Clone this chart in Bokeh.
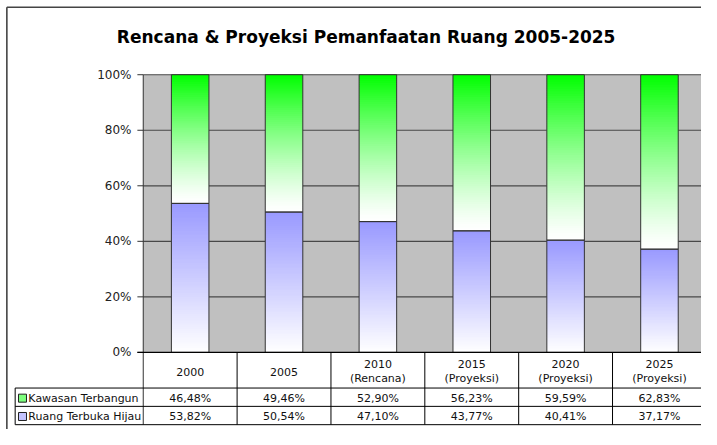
from bokeh.plotting import figure
from bokeh.models import Range1d, BoxAnnotation
from bokeh.core.properties import value
from bokeh.embed import file_html
from bokeh.resources import INLINE

# ---------------- data ----------------
title_text = "Rencana & Proyeksi Pemanfaatan Ruang 2005-2025"
cat_line1 = ["2000", "2005", "2010", "2015", "2020", "2025"]
cat_line2 = ["", "", "(Rencana)", "(Proyeksi)", "(Proyeksi)", "(Proyeksi)"]
kawasan = [46.48, 49.46, 52.90, 56.23, 59.59, 62.83]
ruang = [53.82, 50.54, 47.10, 43.77, 40.41, 37.17]
series_names = ["Kawasan Terbangun", "Ruang Terbuka Hijau"]
y_ticks = [0, 20, 40, 60, 80, 100]
y_tick_labels = ["0%", "20%", "40%", "60%", "80%", "100%"]

# ---------------- geometry (reference picture is 717 x 445) ----------------
W, H = 701, 429
REF_W, REF_H = 717, 445
PX0, CAT_W = 146, 96
PY0, PY100 = 365, 77


def X(px):
    return (px - PX0) / CAT_W


def Y(py):
    return (PY0 - py) / (PY0 - PY100) * 100


n = len(cat_line1)
FONT = value("DejaVu Sans")

p = figure(width=W, height=H, output_backend="svg", toolbar_location=None,
           x_range=Range1d(X(0), X(REF_W)), y_range=Range1d(Y(REF_H), Y(0)),
           x_axis_location=None, y_axis_location=None, min_border=0)
p.grid.visible = False
p.outline_line_color = None
p.background_fill_color = "white"
p.border_fill_color = "white"

# plot area background
p.add_layout(BoxAnnotation(left=0, right=n, bottom=0, top=100, fill_color="#C0C0C0",
                           fill_alpha=1, line_color=None, level="underlay"))

# gridlines and ticks
for t in y_ticks[1:]:
    p.segment(x0=[0], x1=[n], y0=[t], y1=[t], line_color="#484848", line_width=1.2)
for t in y_ticks:
    p.segment(x0=[X(140)], x1=[0], y0=[t], y1=[t], line_color="#333333", line_width=1)

# tick labels
p.text(x=[X(134)] * len(y_ticks), y=y_ticks, text=y_tick_labels, text_align="right",
       text_baseline="middle", text_font=FONT, text_font_size="12px", text_color="#222222")

# bars with gradient
N = 70
bar_w = 0.4
blue_top = (153, 153, 255)
green_top = (0, 255, 0)


def lerp(c, f):
    return "#%02x%02x%02x" % tuple(int(round(255 + (ci - 255) * f)) for ci in c)


xs, bots, tops, cols = [], [], [], []
r_pct = []
for i in range(n):
    tot = kawasan[i] + ruang[i]
    r = ruang[i] / tot * 100
    r_pct.append(r)
    xc = i + 0.5
    for (lo, hi, col, gam) in [(0, r, blue_top, 1.0), (r, 100, green_top, 1.3)]:
        step = (hi - lo) / N
        for s in range(N):
            b = lo + s * step
            tt = min(b + step * 1.6, hi)
            f = ((s + 0.5) / N) ** gam
            xs.append(xc); bots.append(b); tops.append(tt); cols.append(lerp(col, f))
p.vbar(x=xs, bottom=bots, top=tops, width=bar_w, fill_color=cols, line_color=None)

centers = [i + 0.5 for i in range(n)]
p.vbar(x=centers, bottom=[0] * n, top=r_pct, width=bar_w, fill_color=None,
       line_color="#333333", line_width=1)
p.vbar(x=centers, bottom=r_pct, top=[100] * n, width=bar_w, fill_color=None,
       line_color="#333333", line_width=1)

# axis lines
ROW1, ROW2, ROWEND = 402, 421, 440
p.segment(x0=[0], x1=[0], y0=[100], y1=[Y(ROWEND)], line_color="#333333", line_width=1)
p.segment(x0=[X(140)], x1=[n], y0=[0], y1=[0], line_color="#000000", line_width=1.2)

# data table
for j in range(1, n):
    p.segment(x0=[j], x1=[j], y0=[0], y1=[Y(ROWEND)], line_color="#000000", line_width=1)
for py in (ROW1, ROW2, ROWEND):
    p.segment(x0=[X(15)], x1=[n], y0=[Y(py)], y1=[Y(py)], line_color="#000000", line_width=1)
p.segment(x0=[X(15)], x1=[X(15)], y0=[Y(ROW1)], y1=[Y(ROWEND)], line_color="#000000", line_width=1)

hx, hy, ht = [], [], []
for i in range(n):
    if cat_line2[i]:
        hx += [i + 0.5, i + 0.5]; hy += [Y(377), Y(392)]; ht += [cat_line1[i], cat_line2[i]]
    else:
        hx.append(i + 0.5); hy.append(Y(385)); ht.append(cat_line1[i])
p.text(x=hx, y=hy, text=ht, text_align="center", text_baseline="middle",
       text_font=FONT, text_font_size="11px", text_color="#111111")


def fmt(v):
    return ("%.2f" % v).replace(".", ",") + "%"


row_y1 = Y((ROW1 + ROW2) / 2 + 1)
row_y2 = Y((ROW2 + ROWEND) / 2 + 1)
p.text(x=centers, y=[row_y1] * n, text=[fmt(v) for v in kawasan], text_align="center",
       text_baseline="middle", text_font=FONT, text_font_size="11px", text_color="#111111")
p.text(x=centers, y=[row_y2] * n, text=[fmt(v) for v in ruang], text_align="center",
       text_baseline="middle", text_font=FONT, text_font_size="11px", text_color="#111111")

# legend keys in table
p.scatter(x=[X(22.5), X(22.5)], y=[row_y1, row_y2], marker="square", size=8,
          fill_color=["#7dff7d", "#c4c4ff"], line_color="#222222", line_width=1)
p.text(x=[X(28.5), X(28.5)], y=[row_y1, row_y2], text=series_names, text_align="left",
       text_baseline="middle", text_font=FONT, text_font_size="11px", text_color="#111111")

# chart border (left & top)
p.segment(x0=[X(6.5), X(6.5)], x1=[X(6.5), X(REF_W)], y0=[Y(REF_H), Y(7)], y1=[Y(7), Y(7)],
          line_color="#444444", line_width=1.6)

# title
p.text(x=[X(374)], y=[Y(38)], text=[title_text], text_align="center", text_baseline="middle",
       text_font=FONT, text_font_size="17px", text_font_style="bold", text_color="#000000")

open("out.html", "w").write(file_html(p, INLINE))
